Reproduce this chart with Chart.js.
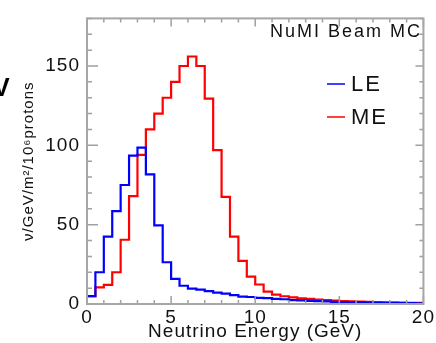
<!DOCTYPE html>
<html><head><meta charset="utf-8">
<script src="https://cdn.jsdelivr.net/npm/chart.js@4.4.0/dist/chart.umd.min.js"></script>
<style>html,body{margin:0;padding:0;background:#fff;overflow:hidden}#wrap{position:relative;width:436px;height:343px}</style>
</head><body><div id="wrap"><canvas id="c" width="436" height="343"></canvas></div>
<script>
// Bin edges of the histograms (GeV)
const binEdges = [0,0.5,1,1.5,2,2.5,3,3.5,4,4.5,5,5.5,6,6.5,7,7.5,8,8.5,9,9.5,10,10.5,11,11.5,12,12.5,13,13.5,14,14.5,15,15.5,16,16.5,17,17.5,18,18.5,19,19.5,20];
// LE beam flux per bin
const leValues = [5,20,42.5,58.5,75,93.5,98.5,81.7,49.6,26.3,15.8,11.5,9.7,9.0,8.1,7.2,6.5,5.6,4.7,4.4,3.9,3.7,3.2,3.0,2.5,2.3,2.0,1.8,1.6,1.4,1.2,1.1,1.0,0.9,0.8,0.7,0.6,0.5,0.5,0.4];
// ME beam flux per bin
const meValues = [5,10.5,12,20,40.5,68,94,110,120,130,140,150,156,150,129.5,97,67.5,42.5,27.2,17.3,12.3,7.8,5.9,4.9,4.2,3.6,3.2,2.8,2.5,2.2,1.9,1.7,1.5,1.3,1.2,1.1,1.0,0.9,0.8,0.8];
const seriesNames = ['LE','ME'];
const seriesColors = ['#0000ff','#ff0000'];
const xTickLabels = [0,5,10,15,20];
const yTickLabels = [0,50,100,150];
const xTitle = 'Neutrino Energy (GeV)';
const yTitle = 'ν/GeV/m²/10⁶protons';
const annotationText = 'NuMI Beam MC';

function toSteps(vals){
  return binEdges.map((e,i)=>({x:e, y: vals[Math.min(i, vals.length-1)]}));
}

const FONT = "'Liberation Sans', Arial, Helvetica, sans-serif";

const framePlugin = {
  id:'frame',
  beforeDraw(chart){ chart.ctx.letterSpacing = '1px'; },
  afterDatasetsDraw(chart){
    const {ctx, chartArea:a, scales:{x,y}} = chart;
    ctx.save();
    ctx.strokeStyle = '#a0a0a0';
    ctx.lineWidth = 1.5;
    ctx.beginPath();
    for (let v = 0; v <= y.max; v += 10){
      const py = y.getPixelForValue(v);
      const major = yTickLabels.includes(v);
      ctx.moveTo(a.left, py); ctx.lineTo(a.left + (major?11:5), py);
      ctx.moveTo(a.right, py); ctx.lineTo(a.right - (major?8:4), py);
    }
    for (let v = 0; v <= x.max; v += 1){
      const px = x.getPixelForValue(v);
      const major = xTickLabels.includes(v);
      ctx.moveTo(px, a.bottom); ctx.lineTo(px, a.bottom - (major?8:4));
      ctx.moveTo(px, a.top); ctx.lineTo(px, a.top + (major?8:4));
    }
    ctx.stroke();
    ctx.lineWidth = 2;
    ctx.strokeStyle = '#a6a6a6';
    ctx.strokeRect(a.left, a.top, a.right - a.left, a.bottom - a.top);
    ctx.restore();
  },
  afterDraw(chart){
    const {ctx} = chart;
    ctx.save();
    // annotation
    ctx.fillStyle = '#111';
    ctx.font = '18px ' + FONT;
    ctx.letterSpacing = '2px';
    ctx.textBaseline = 'middle';
    ctx.textAlign = 'left';
    ctx.fillText(annotationText, 270, 32);
    // legend
    ctx.font = '22px ' + FONT;
    ctx.letterSpacing = '2px';
    const ly = [84, 117];
    chart.data.datasets.forEach((ds, i) => {
      ctx.strokeStyle = ds.borderColor;
      ctx.lineWidth = 1.5;
      ctx.beginPath();
      ctx.moveTo(327, ly[i]); ctx.lineTo(345, ly[i]);
      ctx.stroke();
      ctx.fillStyle = '#111';
      ctx.fillText(ds.label, 351, ly[i] + 1);
    });
    // clipped glyph at the left edge
    ctx.font = 'bold 25px ' + FONT;
    ctx.letterSpacing = '0px';
    ctx.textBaseline = 'alphabetic';
    ctx.fillStyle = '#000';
    ctx.fillText('V', -7, 96);
    ctx.restore();
  }
};

new Chart(document.getElementById('c'), {
  type: 'line',
  data: {
    datasets: [
      {label: seriesNames[0], data: toSteps(leValues), borderColor: seriesColors[0], borderWidth: 2.2, stepped: 'before', pointRadius: 0, fill: false},
      {label: seriesNames[1], data: toSteps(meValues), borderColor: seriesColors[1], borderWidth: 2.2, stepped: 'before', pointRadius: 0, fill: false}
    ]
  },
  options: {
    responsive: false,
    animation: false,
    devicePixelRatio: 1,
    layout: {padding: {top: 9, right: 4, left: 0, bottom: 0}},
    plugins: {legend: {display: false}, tooltip: {enabled: false}},
    scales: {
      x: {
        type: 'linear', min: 0, max: 20,
        afterBuildTicks: s => { s.ticks = xTickLabels.map(v => ({value: v})); },
        afterFit: s => { s.height = 39; },
        grid: {display: false, drawTicks: false},
        border: {display: false},
        ticks: {padding: 2, color: '#111', font: {family: FONT, size: 19}, maxRotation: 0, autoSkip: false},
        title: {display: true, text: xTitle, color: '#111', font: {family: FONT, size: 19}, padding: {top: 0, bottom: 0}}
      },
      y: {
        type: 'linear', min: 0, max: 180,
        afterBuildTicks: s => { s.ticks = yTickLabels.map(v => ({value: v})); },
        afterFit: s => { s.width = 87; },
        grid: {display: false, drawTicks: false},
        border: {display: false},
        ticks: {padding: 7, color: '#111', font: {family: FONT, size: 19}, autoSkip: false},
        title: {display: true, text: yTitle, color: '#111', font: {family: FONT, size: 15}, padding: {top: 20, bottom: 0}}
      }
    }
  },
  plugins: [framePlugin]
});
</script></body></html>
